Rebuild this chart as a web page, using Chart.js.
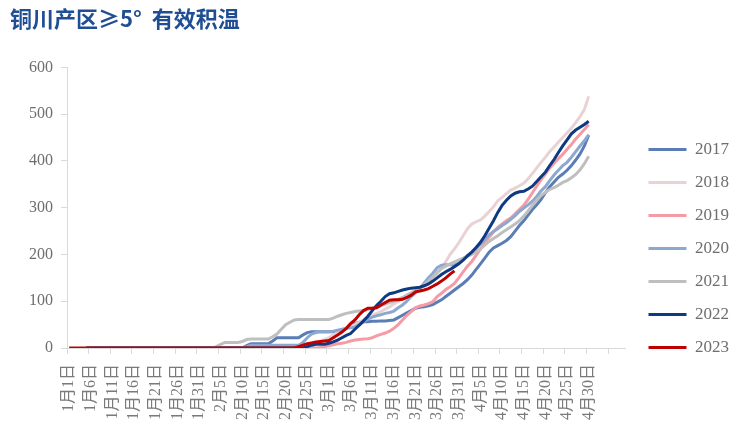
<!DOCTYPE html>
<html lang="zh">
<head>
<meta charset="UTF-8">
<title>铜川产区≥5° 有效积温</title>
<script src="https://cdn.jsdelivr.net/npm/chart.js"></script>
<style>
  html, body { margin: 0; padding: 0; background: #fff; }
  #wrap { width: 751px; height: 448px; }
</style>
</head>
<body>
<div id="wrap"><canvas id="gdd"></canvas></div>
<script>
// category axis: daily, Jan 1 - Apr 30 (leap-year calendar), plus a few blank slots at the end
const months = [1, 2, 3, 4];
const monthDays = [31, 29, 31, 30];
const dayLabels = [];
months.forEach((m, k) => {
  for (let d = 1; d <= monthDays[k]; d++) dayLabels.push(m + '月' + d + '日');
});
const blankSlots = 8;
for (let i = 0; i < blankSlots; i++) dayLabels.push('');

const seriesNames = ['2017', '2018', '2019', '2020', '2021', '2022', '2023'];
const seriesColors = ['#5A7DB6', '#E9D2D4', '#F49BA6', '#8DA8CF', '#BFBFBF', '#0D3A82', '#C00000'];

// cumulative effective temperature, one value per day
const s2017 = [
  null,null,null,null,0,0,0,0,0,0,
  0,0,0,0,0,0,0,0,0,0,
  0,0,0,0,0,0,0,0,0,0,
  0,0,0,0,0,0,0,0,0,0,
  0,5,9,9,9,9,9,15,22,22,
  22,22,22,22,28,33,35,35,35,35,
  35,35,36,38,42,47,52,55,56,56,
  57,57,58,58,59,60,65,70,75,80,
  85,87,88,90,93,98,103,110,117,124,
  131,138,146,156,168,180,192,205,214,219,
  224,230,238,250,262,272,284,296,306,318,
  332,345,355,365,372,380,390,402,415,432,
  455];
const s2018 = [
  null,null,null,null,0,0,0,0,0,0,
  0,0,0,0,0,0,0,0,0,0,
  0,0,0,0,0,0,0,0,0,0,
  0,0,0,0,0,0,0,0,0,0,
  0,0,0,0,0,0,0,0,0,0,
  0,0,0,0,2,4,7,10,14,18,
  22,28,33,38,43,46,50,55,60,65,
  70,74,78,83,88,94,100,106,112,118,
  123,128,133,140,147,158,170,185,200,212,
  225,240,255,265,270,274,282,292,302,315,
  322,330,338,342,347,352,362,373,385,397,
  408,420,430,440,450,460,470,482,495,510,
  538];
const s2019 = [
  null,null,null,null,0,0,0,0,0,0,
  0,0,0,0,0,0,0,0,0,0,
  0,0,0,0,0,0,0,0,0,0,
  0,0,0,0,0,0,0,0,0,0,
  0,0,0,0,0,0,0,0,0,0,
  0,0,0,0,0,0,0,0,1,3,
  5,7,9,10,12,15,17,18,19,20,
  22,26,29,32,36,42,50,60,70,78,
  86,90,92,95,99,110,117,125,131,138,
  150,163,175,185,198,212,225,237,248,258,
  265,272,278,287,296,305,318,332,346,360,
  372,385,395,405,414,425,435,447,457,467,
  478];
const s2020 = [
  null,null,null,null,0,0,0,0,0,0,
  0,0,0,0,0,0,0,0,0,0,
  0,0,0,0,0,0,0,0,0,0,
  0,0,0,0,0,0,0,0,0,0,
  0,3,6,6,6,6,6,6,6,6,
  6,6,6,6,12,22,30,33,35,35,
  35,36,38,40,42,43,45,50,56,62,
  66,69,71,74,76,79,86,92,100,110,
  118,127,139,150,160,172,177,178,178,178,
  182,190,198,205,213,222,232,242,249,255,
  262,268,275,283,292,299,306,314,324,336,
  345,358,370,380,390,397,408,420,432,443,
  456];
const s2021 = [
  null,null,null,null,0,0,0,0,0,0,
  0,0,0,0,0,0,0,0,0,0,
  0,0,0,0,0,0,0,0,0,0,
  0,0,0,0,3,8,12,12,12,12,
  14,18,19,19,19,19,19,24,30,40,
  50,55,60,61,61,61,61,61,61,61,
  61,64,68,71,74,76,78,79,80,82,
  85,87,90,94,97,100,104,108,113,118,
  123,129,135,143,152,162,170,175,180,184,
  188,192,196,200,206,212,220,228,234,240,
  247,253,259,265,272,282,293,305,316,326,
  333,339,343,348,354,358,364,371,381,394,
  410];
const s2022 = [
  null,null,null,null,0,0,0,0,0,0,
  0,0,0,0,0,0,0,0,0,0,
  0,0,0,0,0,0,0,0,0,0,
  0,0,0,0,0,0,0,0,0,0,
  0,0,0,0,0,0,0,0,0,0,
  0,0,0,0,0,3,6,8,8,8,
  10,13,17,22,27,31,40,49,58,68,
  80,91,100,110,116,118,121,124,126,128,
  129,130,133,137,143,150,157,163,168,174,
  180,188,197,205,215,226,240,256,272,290,
  305,316,325,331,334,335,340,346,356,366,
  376,390,403,418,432,445,458,466,472,478,
  485];
const s2023 = [
  0,0,0,0,0,0,0,0,0,0,
  0,0,0,0,0,0,0,0,0,0,
  0,0,0,0,0,0,0,0,0,0,
  0,0,0,0,0,0,0,0,0,0,
  0,0,0,0,0,0,0,0,0,0,
  0,0,0,3,6,9,11,13,14,15,
  16,22,28,34,42,52,60,71,80,85,
  85,86,92,97,102,103,103,104,108,113,
  120,122,124,127,132,137,143,150,158,165];

const seriesData = [s2017, s2018, s2019, s2020, s2021, s2022, s2023];
const yTicks = [0, 100, 200, 300, 400, 500, 600];

const serif = "'Liberation Serif', 'Noto Sans CJK SC', serif";
const grey = '#6E6E6E';
const axisGrey = '#D9D9D9';

const datasets = seriesNames.map((name, i) => ({
  label: name,
  data: seriesData[i],
  borderColor: seriesColors[i],
  backgroundColor: seriesColors[i],
  borderWidth: 3,
  pointRadius: 0,
  tension: 0,
  fill: false,
  order: seriesNames.length - i   // later years drawn on top
}));

new Chart(document.getElementById('gdd'), {
  type: 'line',
  data: { labels: dayLabels, datasets: datasets },
  options: {
    responsive: true,
    maintainAspectRatio: false,
    animation: false,
    layout: { padding: { left: 10, right: 12, top: 0, bottom: 0 } },
    plugins: {
      title: {
        display: true,
        text: '铜川产区≥5°  有效积温',
        align: 'start',
        color: '#1F4E95',
        font: { family: "'Noto Sans CJK SC', sans-serif", size: 22, weight: 'bold', lineHeight: 1.2 },
        padding: { top: 5, bottom: 36 }
      },
      legend: {
        position: 'right',
        align: 'start',
        title: { display: true, text: ' ', font: { size: 1, lineHeight: 1 }, padding: { top: 124, bottom: 0 } },
        labels: {
          usePointStyle: true,
          pointStyle: 'line',
          pointStyleWidth: 38,
          padding: 16,
          color: grey,
          font: { family: serif, size: 17 },
          sort: (a, b) => a.datasetIndex - b.datasetIndex
        }
      },
      tooltip: { enabled: false }
    },
    scales: {
      x: {
        type: 'category',
        offset: true,
        grid: {
          offset: true,
          drawOnChartArea: false,
          tickLength: 6,
          color: ctx => (ctx.index % 5 === 0 ? axisGrey : 'rgba(0,0,0,0)')
        },
        border: { display: true, color: axisGrey, width: 1 },
        ticks: {
          autoSkip: false,
          minRotation: 90,
          maxRotation: 90,
          padding: 10,
          color: '#7A7A7A',
          font: { family: serif, size: 16 },
          callback: function (v, i) { return i % 5 === 0 ? this.getLabelForValue(v) : ''; }
        },
        afterFit: s => { s.height = 100; }
      },
      y: {
        min: 0,
        max: 600,
        afterBuildTicks: s => { s.ticks = yTicks.map(v => ({ value: v })); },
        grid: { drawOnChartArea: false, tickLength: 6, color: axisGrey },
        border: { display: true, color: axisGrey, width: 1 },
        ticks: { padding: 8, color: grey, font: { family: serif, size: 16 } },
        afterFit: s => { s.width = 57; }
      },
      spacer: {
        position: 'right',
        min: 0,
        max: 1,
        grid: { display: false },
        border: { display: false },
        ticks: { display: false },
        afterFit: s => { s.width = 7; }
      }
    }
  }
});
</script>
</body>
</html>
